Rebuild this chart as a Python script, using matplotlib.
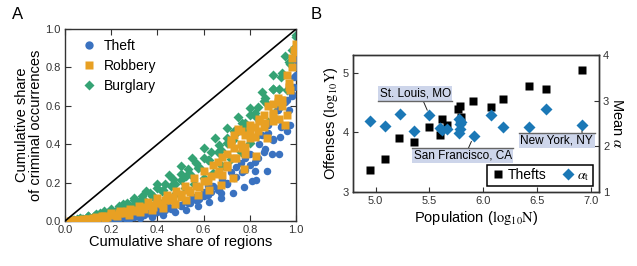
import matplotlib
matplotlib.use("Agg")
import matplotlib.pyplot as plt
from matplotlib.lines import Line2D

plt.rcParams['font.family'] = ['Liberation Sans', 'DejaVu Sans']
plt.rcParams['mathtext.fontset'] = 'stix'

# ---------------- Panel A data (Lorenz-type curves) ----------------
x20 = [0.05, 0.10, 0.15, 0.20, 0.25, 0.30, 0.35, 0.40, 0.45, 0.50,
       0.55, 0.60, 0.65, 0.70, 0.75, 0.80, 0.85, 0.90, 0.95, 1.00]
x20b = [0.025, 0.075, 0.125, 0.175, 0.225, 0.275, 0.325, 0.375, 0.425, 0.475,
        0.525, 0.575, 0.625, 0.675, 0.725, 0.775, 0.825, 0.875, 0.925, 0.975]
x25 = [0.04, 0.08, 0.12, 0.16, 0.20, 0.24, 0.28, 0.32, 0.36, 0.40, 0.44, 0.48, 0.52,
       0.56, 0.60, 0.64, 0.68, 0.72, 0.76, 0.80, 0.84, 0.88, 0.92, 0.96, 1.00]
x25b = [0.02, 0.06, 0.10, 0.14, 0.18, 0.22, 0.26, 0.30, 0.34, 0.38, 0.42, 0.46, 0.50,
        0.54, 0.58, 0.62, 0.66, 0.70, 0.74, 0.78, 0.82, 0.86, 0.90, 0.94, 0.98]
x30 = [0.033, 0.067, 0.10, 0.133, 0.167, 0.20, 0.233, 0.267, 0.30, 0.333,
       0.367, 0.40, 0.433, 0.467, 0.50, 0.533, 0.567, 0.60, 0.633, 0.667,
       0.70, 0.733, 0.767, 0.80, 0.833, 0.867, 0.90, 0.933, 0.967, 1.00]

# Burglary (green)
burg_top = [0.01, 0.025, 0.04, 0.06, 0.09, 0.12, 0.155, 0.195, 0.24, 0.285,
            0.33, 0.38, 0.43, 0.485, 0.54, 0.59, 0.67, 0.76, 0.86, 0.97]
burg_hi = [0.006, 0.015, 0.026, 0.038, 0.05, 0.064, 0.078, 0.094, 0.11, 0.128,
           0.148, 0.17, 0.193, 0.218, 0.245, 0.272, 0.30, 0.33, 0.362, 0.395,
           0.43, 0.468, 0.508, 0.55, 0.595, 0.64, 0.69, 0.75, 0.83, 0.96]
burg_b = [0.002, 0.009, 0.018, 0.028, 0.04, 0.054, 0.07, 0.088, 0.108, 0.13,
          0.155, 0.183, 0.213, 0.246, 0.282, 0.32, 0.362, 0.408, 0.458, 0.51,
          0.565, 0.625, 0.69, 0.77, 0.89]
burg_mid = [0.004, 0.013, 0.024, 0.038, 0.057, 0.078, 0.102, 0.13, 0.16, 0.195,
            0.234, 0.276, 0.32, 0.37, 0.42, 0.478, 0.54, 0.61, 0.69, 0.82]
burg_lo = [0.005, 0.01, 0.018, 0.027, 0.037, 0.048, 0.06, 0.074, 0.09, 0.107,
           0.126, 0.147, 0.17, 0.195, 0.222, 0.252, 0.285, 0.322, 0.362, 0.405,
           0.455, 0.515, 0.585, 0.68, 0.91]

# Robbery (orange)
rob_hi = [0.004, 0.01, 0.018, 0.028, 0.04, 0.052, 0.065, 0.08, 0.098, 0.118,
          0.137, 0.158, 0.185, 0.225, 0.26, 0.29, 0.335, 0.40, 0.47, 0.50,
          0.53, 0.60, 0.64, 0.76, 0.92]
rob_mid = [0.003, 0.008, 0.013, 0.019, 0.026, 0.033, 0.041, 0.05, 0.06, 0.071,
           0.083, 0.096, 0.11, 0.126, 0.143, 0.162, 0.183, 0.206, 0.232, 0.26,
           0.29, 0.33, 0.38, 0.43, 0.47, 0.51, 0.56, 0.63, 0.72, 0.88]
rob_b = [0.001, 0.005, 0.01, 0.016, 0.023, 0.031, 0.04, 0.05, 0.062, 0.075,
         0.09, 0.107, 0.127, 0.15, 0.177, 0.208, 0.243, 0.283, 0.33, 0.385,
         0.44, 0.49, 0.55, 0.63, 0.80]
rob_lo = [0.001, 0.005, 0.01, 0.017, 0.025, 0.034, 0.045, 0.057, 0.07, 0.09,
          0.11, 0.135, 0.16, 0.19, 0.225, 0.27, 0.34, 0.43, 0.53, 0.68]
rob_extra_x = [0.72, 0.73, 0.75, 0.76, 0.78, 0.80, 0.82, 0.84, 0.86, 0.90, 0.92,
               0.94, 0.96, 0.97, 0.98, 0.99, 0.73, 0.70, 0.66, 0.68, 0.78, 0.90, 0.95]
rob_extra_y = [0.42, 0.45, 0.48, 0.40, 0.45, 0.47, 0.49, 0.52, 0.55, 0.61, 0.62,
               0.60, 0.55, 0.70, 0.85, 0.89, 0.38, 0.35, 0.31, 0.24, 0.35, 0.52, 0.50]

# Theft (blue)
theft_hi = [0.0, 0.001, 0.003, 0.006, 0.01, 0.016, 0.024, 0.033, 0.044, 0.057,
            0.071, 0.087, 0.105, 0.126, 0.15, 0.18, 0.215, 0.255, 0.30, 0.35,
            0.40, 0.46, 0.53, 0.63, 0.84]
theft_mid = [0.0, 0.001, 0.002, 0.004, 0.007, 0.01, 0.014, 0.019, 0.025, 0.032,
             0.04, 0.049, 0.059, 0.07, 0.082, 0.096, 0.112, 0.13, 0.15, 0.172,
             0.197, 0.225, 0.257, 0.292, 0.33, 0.375, 0.425, 0.49, 0.58, 0.76]
theft_b = [0.0, 0.0, 0.001, 0.003, 0.006, 0.01, 0.015, 0.021, 0.029, 0.038,
           0.049, 0.062, 0.077, 0.094, 0.114, 0.137, 0.163, 0.193, 0.227, 0.266,
           0.31, 0.36, 0.42, 0.50, 0.66]
theft_lo = [0.0, 0.0, 0.001, 0.003, 0.005, 0.009, 0.014, 0.02, 0.03, 0.045,
            0.06, 0.078, 0.098, 0.12, 0.145, 0.175, 0.215, 0.26, 0.35, 0.50]
theft_extra_x = [0.82, 0.81, 0.895, 0.93, 0.675, 0.88, 0.92, 0.95, 0.97, 0.98,
                 0.99, 0.96, 0.85, 0.78, 0.74, 0.62, 0.55, 0.45, 0.36, 0.29, 1.0, 0.99]
theft_extra_y = [0.26, 0.21, 0.35, 0.44, 0.148, 0.50, 0.58, 0.62, 0.70, 0.65,
                 0.75, 0.47, 0.45, 0.33, 0.28, 0.18, 0.12, 0.075, 0.04, 0.02, 0.80, 0.70]

# ---------------- Panel B data ----------------
theft_pop = [4.95, 5.09, 5.22, 5.36, 5.50, 5.62, 5.60, 5.66, 5.76, 5.78, 5.79,
             5.90, 6.07, 6.18, 6.42, 6.58, 6.91]
theft_off = [3.37, 3.56, 3.90, 3.84, 4.09, 4.22, 3.95, 4.12, 4.39, 4.45, 4.26,
             4.53, 4.42, 4.57, 4.78, 4.73, 5.05]
alpha_pop = [4.95, 5.09, 5.23, 5.36, 5.50, 5.60, 5.62, 5.66, 5.77, 5.77, 5.78,
             5.78, 5.79, 5.91, 6.07, 6.18, 6.42, 6.58, 6.91]
alpha_val = [2.55, 2.44, 2.72, 2.33, 2.68, 2.40, 2.35, 2.39, 2.29, 2.61, 2.48,
             2.39, 2.54, 2.22, 2.68, 2.42, 2.42, 2.81, 2.46]
city_names = ['St. Louis, MO', 'San Francisco, CA', 'New York, NY']
city_index = [4, 13, 18]
city_text_pos = [(5.37, 3.16), (5.81, 1.80), (6.68, 2.13)]

c_blue = '#3a72c0'
c_orange = '#e8a023'
c_green = '#35a374'
c_dia = '#1b78b6'
c_box = '#cdd5ea'

fig = plt.figure(figsize=(6.37, 2.66), dpi=100)

# ---------------- Panel A ----------------
axA = fig.add_axes([0.102, 0.169, 0.363, 0.722])
ms = 5.0
for xs, ys in [(x20, burg_top), (x30, burg_hi), (x25b, burg_b), (x20b, burg_mid), (x25, burg_lo)]:
    axA.plot(xs, ys, 'D', color=c_green, ms=ms, mec='none', zorder=2)
for xs, ys in [(x25, theft_hi), (x30, theft_mid), (x25b, theft_b), (x20b, theft_lo),
               (theft_extra_x, theft_extra_y)]:
    axA.plot(xs, ys, 'o', color=c_blue, ms=ms + 0.4, mec='none', zorder=3)
for xs, ys in [(x25, rob_hi), (x30, rob_mid), (x25b, rob_b), (x20b, rob_lo),
               (rob_extra_x, rob_extra_y)]:
    axA.plot(xs, ys, 's', color=c_orange, ms=ms + 0.1, mec='none', zorder=4)
axA.plot([0, 1], [0, 1], color='black', lw=1.2, zorder=5)
axA.set_xlim(0, 1)
axA.set_ylim(0, 1)
ticks = [0.0, 0.2, 0.4, 0.6, 0.8, 1.0]
axA.set_xticks(ticks)
axA.set_yticks(ticks)
axA.set_xticklabels(['%.1f' % t for t in ticks])
axA.set_yticklabels(['%.1f' % t for t in ticks])
axA.tick_params(direction='in', top=True, right=True, length=4, width=0.8,
                labelsize=8, colors='#333333', pad=3)
for s in axA.spines.values():
    s.set_linewidth(1.0)
    s.set_color('#333333')
axA.set_xlabel('Cumulative share of regions', fontsize=10.5, labelpad=0)
axA.set_ylabel('Cumulative share\nof criminal occurrences', fontsize=10.5, labelpad=2,
               linespacing=1.0)
handlesA = [Line2D([], [], ls='none', marker='o', color=c_blue, ms=6, mec='none'),
            Line2D([], [], ls='none', marker='s', color=c_orange, ms=6, mec='none'),
            Line2D([], [], ls='none', marker='D', color=c_green, ms=5.5, mec='none')]
axA.legend(handlesA, ['Theft', 'Robbery', 'Burglary'], loc='upper left', frameon=False,
           fontsize=10, handletextpad=0.1, borderaxespad=0.3, labelspacing=0.45)
fig.text(0.028, 0.945, 'A', fontsize=12, ha='center', va='center')

# ---------------- Panel B ----------------
axB = fig.add_axes([0.554, 0.278, 0.386, 0.515])
axB2 = axB.twinx()
axB.plot(theft_pop, theft_off, 's', color='black', ms=5.2, mec='none', zorder=3)
axB2.plot(alpha_pop, alpha_val, 'D', color=c_dia, ms=5.8, mec='none', zorder=3)
axB.set_xlim(4.79, 7.07)
axB.set_ylim(3, 5.3)
axB2.set_ylim(1, 4)
axB.set_xticks([5.0, 5.5, 6.0, 6.5, 7.0])
axB.set_xticklabels(['5.0', '5.5', '6.0', '6.5', '7.0'])
axB.set_yticks([3, 4, 5])
axB2.set_yticks([1, 2, 3, 4])
axB.tick_params(direction='in', length=3.5, width=0.8, labelsize=8, colors='#333333', pad=3)
axB2.tick_params(direction='in', length=3.5, width=0.8, labelsize=8, colors='#333333', pad=3)
for a in (axB, axB2):
    for s in a.spines.values():
        s.set_linewidth(1.0)
        s.set_color('#333333')
axB.set_xlabel('Population ($\\mathrm{log_{10}N}$)', fontsize=10.5, labelpad=2)
axB.set_ylabel('Offenses ($\\mathrm{log_{10}Y}$)', fontsize=10.5, labelpad=2)
axB2.set_ylabel('Mean $\\alpha$', fontsize=10.5, rotation=-90, labelpad=11)

relpos = [(0.6, 0.0), (0.55, 1.0), (0.85, 1.0)]
edge_side = ['bottom', 'top', 'top']
texts = []
for name, idx, pos, rp in zip(city_names, city_index, city_text_pos, relpos):
    t = axB2.annotate(name, xy=(alpha_pop[idx], alpha_val[idx]), xytext=pos,
                      fontsize=8.5, ha='center', va='center', zorder=6,
                      bbox=dict(boxstyle='square,pad=0.12', fc=c_box, ec='none'),
                      arrowprops=dict(arrowstyle='-', color='#222222', lw=0.7,
                                      shrinkA=0, shrinkB=4, relpos=rp))
    texts.append(t)

handlesB = [Line2D([], [], ls='none', marker='s', color='black', ms=6, mec='none'),
            Line2D([], [], ls='none', marker='D', color=c_dia, ms=6, mec='none')]
legB = axB2.legend(handlesB, ['Thefts', '$\\alpha_\\mathrm{t}$'], loc='lower right', ncol=2,
                   fontsize=10, fancybox=False, edgecolor='black', framealpha=1,
                   handletextpad=0.1, handlelength=1.2, columnspacing=0.9, borderpad=0.25,
                   borderaxespad=0.4)
legB.get_frame().set_linewidth(1.1)
fig.text(0.497, 0.945, 'B', fontsize=12, ha='center', va='center')

# grey rule along one edge of each label box
fig.canvas.draw()
r = fig.canvas.get_renderer()
inv = fig.transFigure.inverted()
for t, side in zip(texts, edge_side):
    ext = t.get_bbox_patch().get_window_extent(r)
    yv = ext.y0 if side == 'bottom' else ext.y1
    (fx0, fy), (fx1, _) = inv.transform([(ext.x0, yv), (ext.x1, yv)])
    fig.add_artist(Line2D([fx0, fx1], [fy, fy], color='#666666', lw=1.0, zorder=7))

fig.savefig('out.png', dpi=100)
